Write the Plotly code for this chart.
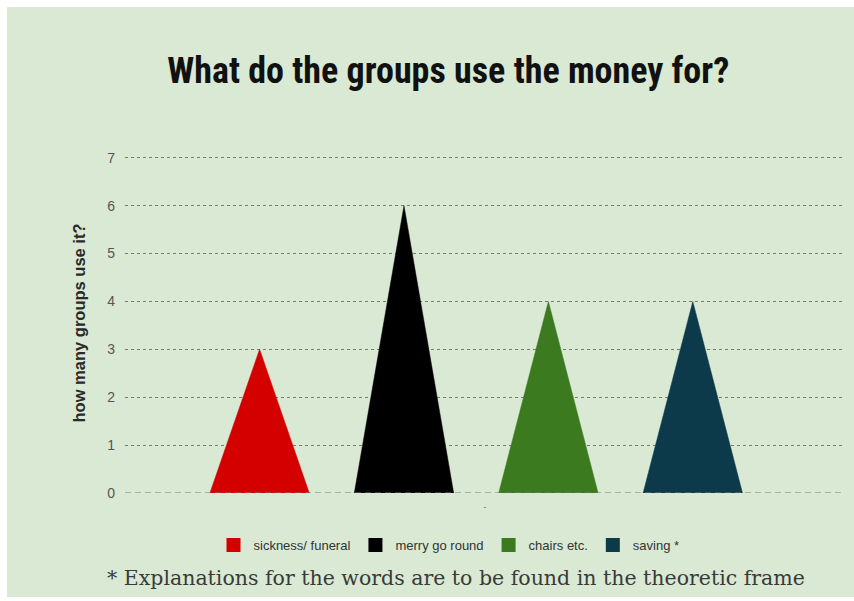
import plotly.graph_objects as go

# Survey results: how many groups use the money for each purpose
categories = ["sickness/ funeral", "merry go round", "chairs etc.", "saving *"]
group_counts = [3, 6, 4, 4]
colors = ["#d40000", "#000000", "#3b7a1f", "#0c3a4b"]
y_ticks = [0, 1, 2, 3, 4, 5, 6, 7]

HALF_BASE = 0.344  # half width of each triangle, in category units
BG = "#d9e9d3"

# Plot area in pixels, used to place the background card in paper units
PLOT_LEFT, PLOT_RIGHT, PLOT_TOP, PLOT_BOTTOM = 125, 845, 153, 493
pw = PLOT_RIGHT - PLOT_LEFT
ph = PLOT_BOTTOM - PLOT_TOP

fig = go.Figure()

# Triangular "bars": base on zero, apex at the value
for i, (name, val, col) in enumerate(zip(categories, group_counts, colors)):
    fig.add_trace(go.Scatter(
        x=[i - HALF_BASE, i, i + HALF_BASE, i - HALF_BASE],
        y=[0, val, 0, 0],
        mode="lines",
        fill="toself",
        fillcolor=col,
        line=dict(color=col, width=0.5),
        showlegend=False,
        hoverinfo="text",
        text=f"{name}: {val}",
    ))

# Square legend swatches
for name, col in zip(categories, colors):
    fig.add_trace(go.Scatter(
        x=[None], y=[None], mode="markers", name=name,
        marker=dict(symbol="square", size=14, color=col),
    ))

# Light green card behind everything, leaving a thin white frame
fig.add_shape(type="rect", xref="paper", yref="paper",
              x0=(7 - PLOT_LEFT) / pw, x1=(860 - PLOT_LEFT) / pw,
              y0=(PLOT_BOTTOM - 597) / ph, y1=(PLOT_BOTTOM - 7) / ph,
              fillcolor=BG, line=dict(width=0), layer="below")

# Dashed baseline
fig.add_shape(type="line", xref="paper", yref="y",
              x0=0, x1=1, y0=0, y1=0,
              line=dict(color="#7a7f78", width=1.2, dash="6px,4px"))

fig.update_layout(
    width=854, height=601,
    margin=dict(l=PLOT_LEFT, r=854 - PLOT_RIGHT, t=PLOT_TOP, b=601 - PLOT_BOTTOM),
    paper_bgcolor="white",
    plot_bgcolor="rgba(0,0,0,0)",
    title=dict(
        text="<b>What do the groups use the money for?</b>",
        font=dict(family="Roboto Condensed, Roboto, sans-serif",
                  size=36, color="#111111"),
        x=0.449, xanchor="center", xref="paper",
        y=0.883, yanchor="middle", yref="container",
    ),
    xaxis=dict(
        range=[-0.932, 4.054],
        showgrid=False, zeroline=False, showticklabels=False, showline=False,
        title=dict(text="-", font=dict(size=9, color="#666666"), standoff=10),
    ),
    yaxis=dict(
        range=[0, 7.1],
        tickvals=y_ticks,
        ticktext=[str(v) for v in y_ticks],
        showgrid=True, gridcolor="#757b73", gridwidth=1, griddash="dot",
        zeroline=False, showline=False,
        ticklabelstandoff=9,
        tickfont=dict(family="Liberation Sans, Arial, sans-serif", size=14, color="#555555"),
        title=dict(text="<b>how many groups use it?</b>",
                   font=dict(family="Liberation Sans, Arial, sans-serif", size=16.5, color="#2a2a2a"),
                   standoff=17),
    ),
    legend=dict(
        orientation="h",
        x=(449 - PLOT_LEFT) / pw, xanchor="center",
        y=(PLOT_BOTTOM - 545) / ph, yanchor="middle",
        font=dict(family="Liberation Sans, Arial, sans-serif",
                  size=13, color="#333333"),
        itemwidth=30,
        bgcolor="rgba(0,0,0,0)",
        tracegroupgap=0,
    ),
    annotations=[dict(
        text="* Explanations for the words are to be found in the theoretic frame",
        xref="paper", yref="paper",
        x=(456 - PLOT_LEFT) / pw, y=(PLOT_BOTTOM - 578) / ph,
        xanchor="center", yanchor="middle", showarrow=False,
        font=dict(family="DejaVu Serif, serif", size=20.5, color="#3a3a3a"),
    )],
)

fig.write_html("out.html")
